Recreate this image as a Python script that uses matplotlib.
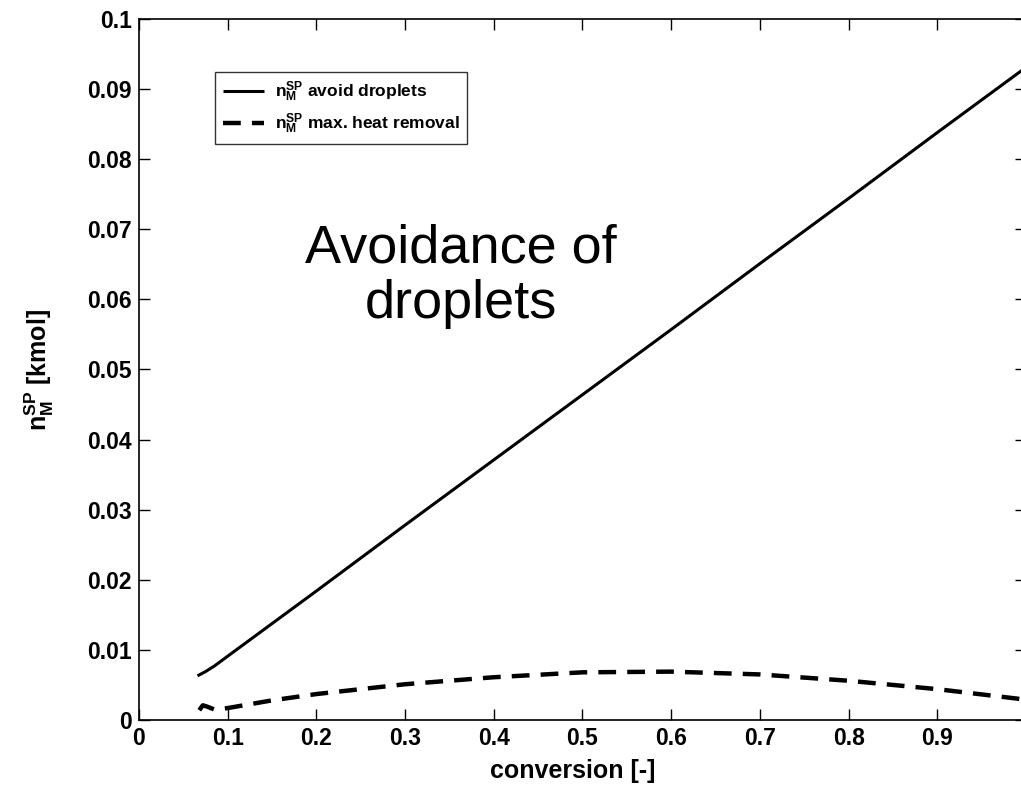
import numpy as np
import matplotlib
matplotlib.use("Agg")
import matplotlib.pyplot as plt

plt.rcParams["font.family"] = ["Liberation Sans", "DejaVu Sans"]
plt.rcParams["mathtext.fontset"] = "custom"
plt.rcParams["mathtext.rm"] = "Liberation Sans"
plt.rcParams["mathtext.bf"] = "Liberation Sans:bold"
plt.rcParams["mathtext.it"] = "Liberation Sans:italic"

# solid: n_M^SP avoid droplets
conv_avoid = [0.066, 0.075, 0.085, 0.1, 0.2, 0.3, 0.4, 0.5, 0.6, 0.7, 0.8, 0.9, 1.0]
n_avoid = [0.0063, 0.0069, 0.0077, 0.0091, 0.0184, 0.0278, 0.0371, 0.0464, 0.0557, 0.0651, 0.0744, 0.0838, 0.0931]

# dashed: n_M^SP max. heat removal
conv_heat = [0.068, 0.072, 0.077, 0.085, 0.1, 0.15, 0.2, 0.3, 0.4, 0.5, 0.6, 0.7, 0.8, 0.9, 1.0]
n_heat = [0.0014, 0.0021, 0.0019, 0.0015, 0.0017, 0.0028, 0.0037, 0.0051, 0.0061, 0.0068, 0.0069, 0.0065, 0.0056, 0.0044, 0.0029]

xticks = [0, 0.1, 0.2, 0.3, 0.4, 0.5, 0.6, 0.7, 0.8, 0.9, 1.0]
xticklabels = ["0", "0.1", "0.2", "0.3", "0.4", "0.5", "0.6", "0.7", "0.8", "0.9", ""]
yticks = [0, 0.01, 0.02, 0.03, 0.04, 0.05, 0.06, 0.07, 0.08, 0.09, 0.1]
yticklabels = ["0", "0.01", "0.02", "0.03", "0.04", "0.05", "0.06", "0.07", "0.08", "0.09", "0.1"]

fig = plt.figure(figsize=(10.21, 7.94), dpi=100)
ax = fig.add_axes([0.1361, 0.0932, 0.8688, 0.8829])

ax.plot(conv_avoid, n_avoid, color="black", lw=2.2, solid_capstyle="butt",
        label=r"$\mathregular{n_M^{SP}}$ avoid droplets")
ax.plot(conv_heat, n_heat, color="black", lw=3.2, dashes=(4, 2.5),
        label=r"$\mathregular{n_M^{SP}}$ max. heat removal")

ax.set_xlim(0, 1)
ax.set_ylim(0, 0.1)
ax.set_xticks(xticks)
ax.set_xticklabels(xticklabels)
ax.set_yticks(yticks)
ax.set_yticklabels(yticklabels)
ax.tick_params(direction="in", length=8, width=1, top=True, right=True,
               labelsize=16.5, pad=5)
for lab in ax.get_xticklabels() + ax.get_yticklabels():
    lab.set_fontweight("bold")
for sp in ax.spines.values():
    sp.set_linewidth(1.2)

ax.set_xlabel("conversion [-]", fontsize=18, fontweight="bold")
ax.xaxis.set_label_coords(0.489, -0.055)
ax.set_ylabel(r"$\mathbf{n_M^{SP}}$ [kmol]", fontsize=18, fontweight="bold")
ax.yaxis.set_label_coords(-0.094, 0.5)

ax.text(0.363, 0.633, "Avoidance of\ndroplets", transform=ax.transAxes,
        ha="center", va="center", fontsize=39, linespacing=1.15)

leg = ax.legend(loc="upper left", bbox_to_anchor=(0.0857, 0.924), fontsize=12.5,
                frameon=True, fancybox=False, handlelength=2.4,
                borderpad=0.45, labelspacing=0.4, handletextpad=0.6,
                borderaxespad=0)
leg.get_frame().set_edgecolor("black")
leg.get_frame().set_linewidth(1.0)
for t in leg.get_texts():
    t.set_fontweight("bold")

fig.savefig("out.png", dpi=100)
